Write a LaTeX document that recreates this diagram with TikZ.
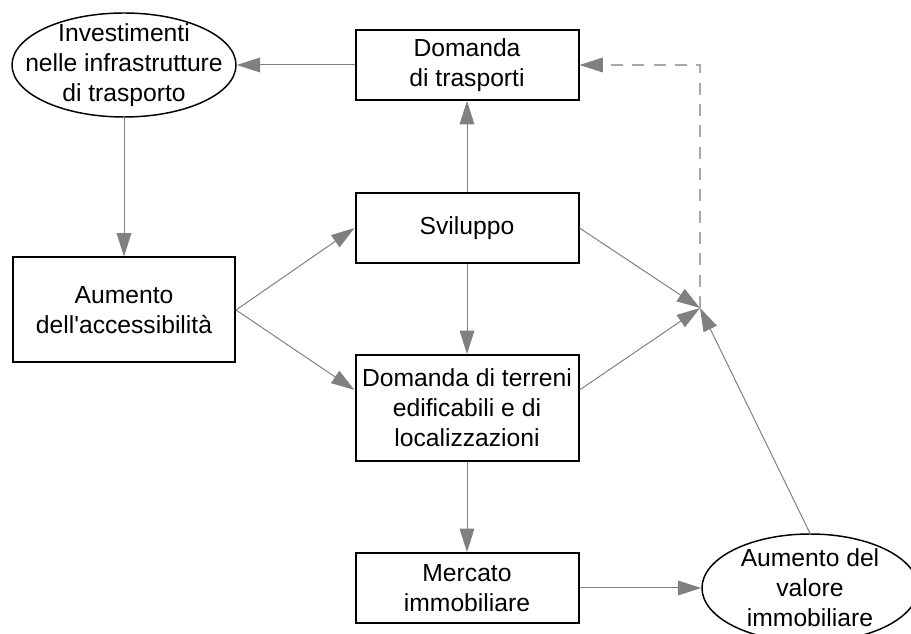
\documentclass[tikz,border=0pt]{standalone}
\usepackage{fontspec}
\setmainfont{Liberation Sans}
\usetikzlibrary{arrows.meta,shapes.geometric}
\definecolor{linkgray}{RGB}{128,128,128}
\definecolor{dashgray}{RGB}{168,168,168}
\begin{document}
\begin{tikzpicture}[x=0.75pt,y=-0.75pt,
  every node/.style={font=\fontsize{18.5}{22.5}\selectfont, align=center, inner sep=0pt},
  box/.style={draw=black, line width=1.5pt, rectangle, minimum width=167.25pt, minimum height=52.5pt},
  tallbox/.style={box, minimum height=79.5pt},
  oval/.style={draw=black, ellipse, line width=1.1pt},
  tip/.style={-{Triangle[length=17.5pt,width=11pt,color=linkgray]}},
  link/.style={draw=linkgray, line width=0.75pt, tip},
  dashlink/.style={draw=dashgray, line width=0.9pt, dash pattern=on 9pt off 7pt, tip}
]
\useasboundingbox (0,0) rectangle (911,634);

% boxes of the central column
\node[box] (dt) at (467,65) {Domanda\\di trasporti};
\node[box] (sv) at (467,228) {Sviluppo};
\node[tallbox] (dte) at (467,408) {Domanda di terreni\\edificabili e di\\localizzazioni};
\node[box] (me) at (467,588) {Mercato\\immobiliare};

% left column
\node[oval, minimum width=168pt, minimum height=78pt] (inv) at (124,65) {};
\node (invtext) at (inv.center) {Investimenti\\nelle infrastrutture\\di trasporto};
\node[box, minimum width=166.5pt, minimum height=78.75pt] (acc) at (124,310) {Aumento\\dell\textquotesingle accessibilità};

% right side
\node[oval, minimum width=162pt, minimum height=81pt] (val) at (810,588) {};
\node (valtext) at (val.center) {Aumento del\\valore\\immobiliare};
\coordinate (hub) at (700,308);

% connectors
\draw[link] (dt.west) -- (inv.east);
\draw[link] (inv.south) -- (acc.north);
\draw[link] (acc.east) -- (sv.west);
\draw[link] (acc.east) -- ([yshift=13.5pt]dte.west);
\draw[link] (sv.north) -- (dt.south);
\draw[link] (sv.south) -- (dte.north);
\draw[link] (dte.south) -- (me.north);
\draw[link] (me.east) -- (val.west);
\draw[link] (sv.east) -- (hub);
\draw[link] ([yshift=13.5pt]dte.east) -- (hub);
\draw[link] (val.north) -- (hub);
\draw[dashlink] (hub) |- (dt.east);
\end{tikzpicture}
\end{document}
